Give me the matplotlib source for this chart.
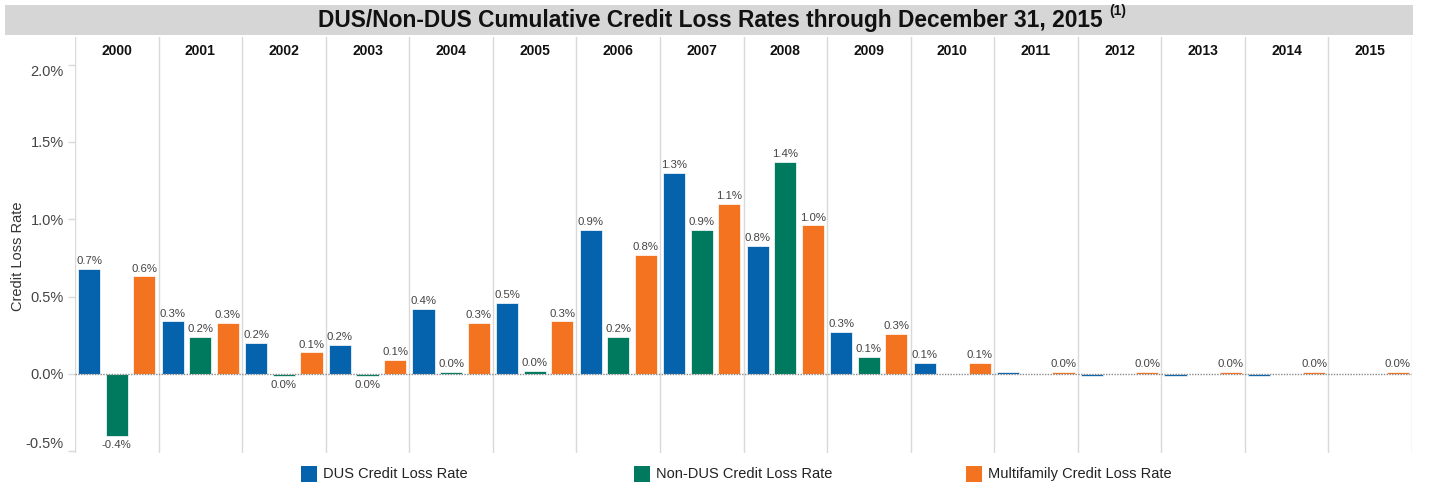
import matplotlib
matplotlib.use("Agg")
import matplotlib.pyplot as plt
from matplotlib.patches import Rectangle
import numpy as np

plt.rcParams['font.family'] = ['Liberation Sans', 'DejaVu Sans']

years = ["2000", "2001", "2002", "2003", "2004", "2005", "2006", "2007",
         "2008", "2009", "2010", "2011", "2012", "2013", "2014", "2015"]

# cumulative credit loss rates, percent
dus_rate = [0.68, 0.34, 0.20, 0.19, 0.42, 0.46, 0.93, 1.30,
            0.83, 0.27, 0.07, 0.012, -0.012, -0.012, -0.012, 0.0]
non_dus_rate = [-0.40, 0.24, -0.012, -0.012, 0.012, 0.02, 0.24, 0.93,
                1.37, 0.11, 0.0, 0.0, 0.0, 0.0, 0.0, 0.0]
multifamily_rate = [0.63, 0.33, 0.14, 0.09, 0.33, 0.34, 0.77, 1.10,
                    0.96, 0.26, 0.07, 0.012, 0.012, 0.012, 0.012, 0.012]

# which bars carry a value label
dus_labelled = [True] * 11 + [False] * 5
non_dus_labelled = [True] * 10 + [False] * 6
multifamily_labelled = [True] * 16

series_names = ["DUS Credit Loss Rate", "Non-DUS Credit Loss Rate",
                "Multifamily Credit Loss Rate"]
series_colors = ["#0563AE", "#007A5E", "#F37321"]

yticks = [-0.5, 0.0, 0.5, 1.0, 1.5, 2.0]

W, H = 1430, 487
fig = plt.figure(figsize=(W / 100, H / 100), dpi=100)
ax = fig.add_axes([75 / W, 1 - 453 / H, (1412 - 75) / W, (453 - 37) / H])

x = np.arange(len(years))
offsets = [-0.33, 0.0, 0.33]
width = 0.265
label_color = "#444444"

all_series = [dus_rate, non_dus_rate, multifamily_rate]
all_flags = [dus_labelled, non_dus_labelled, multifamily_labelled]

for vals, flags, off, col in zip(all_series, all_flags, offsets, series_colors):
    bars = ax.bar(x + off, vals, width=width, color=col,
                  edgecolor="white", linewidth=0.5, zorder=3)
    for bar, v, show in zip(bars, vals, flags):
        if not show:
            continue
        txt = f"{v:.1f}%"
        if txt == "-0.0%":
            txt = "0.0%"
        cx = bar.get_x() + bar.get_width() / 2
        if v < 0:
            ax.annotate(txt, (cx, v), xytext=(0, -3), textcoords="offset points",
                        ha="center", va="top", fontsize=8.2, color=label_color)
        else:
            ax.annotate(txt, (cx, v), xytext=(0, 2), textcoords="offset points",
                        ha="center", va="bottom", fontsize=8.2, color=label_color)

# zero reference line
ax.axhline(0, color="#8a8a8a", linestyle=(0, (1, 1)), linewidth=1.0, zorder=4)

# panel separators
sep_color = "#d9d9d9"
for b in np.arange(len(years) + 1) - 0.5:
    ax.axvline(b, color=sep_color, linewidth=1.0, zorder=1)

# year headers
for xi, yr in zip(x, years):
    ax.text(xi, 0.966, yr, transform=ax.get_xaxis_transform(), ha="center",
            va="center", fontsize=10, fontweight="bold", color="#111111")

ax.set_xlim(-0.5, len(years) - 0.5)
ax.set_ylim(-0.511, 2.178)
ax.set_xticks([])
ax.set_yticks(yticks)
ax.set_yticklabels([f"{t:.1f}%" for t in yticks])
ax.tick_params(axis="y", length=5, width=1, color=sep_color, pad=3,
               labelsize=10.5, labelcolor="#444444")
for t, tick in zip(yticks, ax.yaxis.get_major_ticks()):
    if t == yticks[0]:
        tick.label1.set_va("bottom")
    elif t == yticks[-1]:
        tick.label1.set_va("top")
for s in ax.spines.values():
    s.set_visible(False)

fig.text(18 / W, 1 - 256 / H, "Credit Loss Rate", rotation=90, ha="center",
         va="center", fontsize=10.5, color="#333333")

# title band
fig.patches.append(Rectangle((5 / W, 1 - 35 / H), (1413 - 5) / W, 30 / H,
                             transform=fig.transFigure, facecolor="#d6d6d6",
                             edgecolor="none", zorder=0))
title = fig.text(710 / W, 1 - 21 / H,
                 "DUS/Non-DUS Cumulative Credit Loss Rates through December 31, 2015",
                 ha="center", va="center", fontsize=16.4, fontweight="bold",
                 color="#111111")
fig.canvas.draw()
tb = title.get_window_extent()
fig.text((tb.x1 + 7) / W, 1 - 4 / H, "(1)", ha="left", va="top",
         fontsize=10, fontweight="bold", color="#111111")

# legend
legend_x = [301, 634, 966]
for lx, name, col in zip(legend_x, series_names, series_colors):
    fig.patches.append(Rectangle((lx / W, 1 - 482 / H), 16 / W, 16 / H,
                                 transform=fig.transFigure, facecolor=col,
                                 edgecolor="none"))
    fig.text((lx + 22) / W, 1 - 474 / H, name, ha="left", va="center",
             fontsize=10.5, color="#222222")

fig.savefig("out.png", dpi=100)
